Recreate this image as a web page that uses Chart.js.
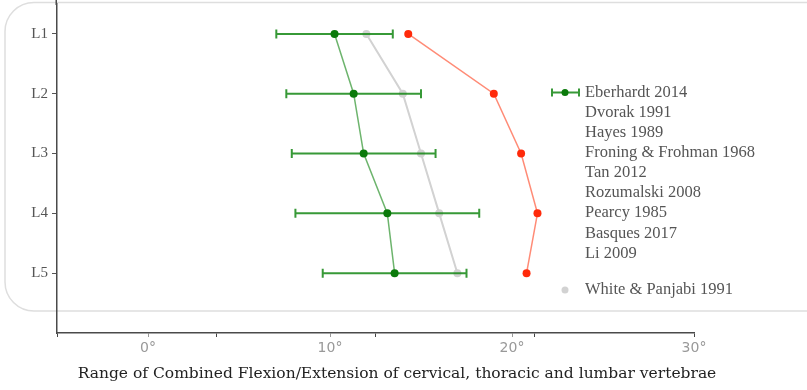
<!DOCTYPE html>
<html>
<head>
<meta charset="utf-8">
<script src="https://cdn.jsdelivr.net/npm/chart.js@4.4.1/dist/chart.umd.min.js"></script>
<style>
  html, body { margin: 0; padding: 0; background: #fff; }
  canvas { display: block; }
</style>
</head>
<body>
<canvas id="chart" width="807" height="390"></canvas>
<script>
// Vertebral levels and their positions on the vertical scale
const levels = ['L1', 'L2', 'L3', 'L4', 'L5'];
const levelPos = [1, 2, 3, 4, 5];

// Range of motion (degrees) per level
const eberhardtMean = [10.25, 11.3, 11.85, 13.15, 13.55];
const eberhardtSD = [3.2, 3.7, 3.95, 5.05, 3.95];
const whitePanjabi = [12, 14, 15, 16, 17];
const otherStudy = [14.3, 19.0, 20.5, 21.4, 20.8];

// Horizontal axis ticks: labelled decades and quarter divisions of the range
const xLabelTicks = [0, 10, 20, 30];
const xQuarterTicks = [-5, 3.75, 12.5, 21.25, 30];

// Legend entries
const legendNames = ['Eberhardt 2014', 'Dvorak 1991', 'Hayes 1989', 'Froning & Frohman 1968',
  'Tan 2012', 'Rozumalski 2008', 'Pearcy 1985', 'Basques 2017', 'Li 2009', 'White & Panjabi 1991'];

const xTitle = 'Range of Combined Flexion/Extension of cervical, thoracic and lumbar vertebrae';

const GREEN = '#0b7a0b';
const GREEN_BAR = 'rgba(20,135,20,0.85)';
const GREEN_LINE = 'rgba(30,140,30,0.65)';
const GRAY = '#d2d2d2';
const RED_PT = '#ff2a0a';
const RED_LINE = 'rgba(255,90,60,0.7)';

const toPoints = vals => vals.map((v, i) => ({ x: v, y: levelPos[i] }));

// Rounded panel behind the plot, plus the vertical axis line carried to the top edge
const panelPlugin = {
  id: 'panel',
  beforeDraw(chart) {
    const ctx = chart.ctx;
    ctx.save();
    ctx.strokeStyle = '#dedede';
    ctx.lineWidth = 1.5;
    ctx.beginPath();
    ctx.roundRect(5, 2.5, 830, 308.5, 29);
    ctx.stroke();
    const xAxis = chart.scales.y.right;
    ctx.strokeStyle = '#4a4a4a';
    ctx.beginPath();
    ctx.moveTo(xAxis - 0.75, 0);
    ctx.lineTo(xAxis - 0.75, chart.chartArea.top + 1);
    ctx.stroke();
    ctx.restore();
  }
};

// Horizontal error bars for the first series
const errorBarPlugin = {
  id: 'errorBars',
  afterDatasetsDraw(chart) {
    const ctx = chart.ctx;
    const xs = chart.scales.x, ys = chart.scales.y;
    ctx.save();
    ctx.strokeStyle = GREEN_BAR;
    ctx.lineWidth = 2;
    eberhardtMean.forEach((m, i) => {
      const y = ys.getPixelForValue(levelPos[i]);
      const x0 = xs.getPixelForValue(m - eberhardtSD[i]);
      const x1 = xs.getPixelForValue(m + eberhardtSD[i]);
      ctx.beginPath();
      ctx.moveTo(x0, y); ctx.lineTo(x1, y);
      ctx.moveTo(x0, y - 4.5); ctx.lineTo(x0, y + 4.5);
      ctx.moveTo(x1, y - 4.5); ctx.lineTo(x1, y + 4.5);
      ctx.stroke();
      ctx.beginPath();
      ctx.fillStyle = GREEN;
      ctx.arc(xs.getPixelForValue(m), y, 4, 0, Math.PI * 2);
      ctx.fill();
    });
    ctx.restore();
  }
};

// Axis title and legend text
const annotationPlugin = {
  id: 'annotations',
  afterDraw(chart) {
    const ctx = chart.ctx;
    ctx.save();
    ctx.fillStyle = '#222';
    ctx.font = '15.5px "DejaVu Serif"';
    ctx.textAlign = 'center';
    ctx.textBaseline = 'middle';
    ctx.fillText(xTitle, 397, 374);

    ctx.font = '16.5px "Liberation Serif"';
    ctx.textAlign = 'left';
    ctx.fillStyle = '#555';
    const textX = 585, markX = 565;
    legendNames.forEach((name, i) => {
      const y = i < 9 ? 92.5 + i * 20.1 : 290;
      ctx.fillText(name, textX, y);
      if (i === 0) {
        ctx.strokeStyle = GREEN_BAR;
        ctx.lineWidth = 2;
        ctx.beginPath();
        ctx.moveTo(552, y); ctx.lineTo(579, y);
        ctx.moveTo(552, y - 4); ctx.lineTo(552, y + 4);
        ctx.moveTo(579, y - 4); ctx.lineTo(579, y + 4);
        ctx.stroke();
        ctx.fillStyle = GREEN;
        ctx.beginPath(); ctx.arc(markX, y, 3.5, 0, Math.PI * 2); ctx.fill();
        ctx.fillStyle = '#555';
      }
      if (i === 9) {
        ctx.fillStyle = GRAY;
        ctx.beginPath(); ctx.arc(markX, y, 3.5, 0, Math.PI * 2); ctx.fill();
        ctx.fillStyle = '#555';
      }
    });
    ctx.restore();
  }
};

new Chart(document.getElementById('chart'), {
  type: 'scatter',
  data: {
    datasets: [
      {
        label: legendNames[0],
        data: toPoints(eberhardtMean),
        showLine: true,
        borderColor: GREEN_LINE,
        borderWidth: 1.5,
        pointRadius: 0,
        pointHoverRadius: 0
      },
      {
        label: legendNames[9],
        data: toPoints(whitePanjabi),
        showLine: true,
        borderColor: GRAY,
        borderWidth: 2,
        pointRadius: 4,
        pointBackgroundColor: GRAY,
        pointBorderWidth: 0
      },
      {
        label: 'Other study',
        data: toPoints(otherStudy),
        showLine: true,
        borderColor: RED_LINE,
        borderWidth: 1.5,
        pointRadius: 4,
        pointBackgroundColor: RED_PT,
        pointBorderWidth: 0
      }
    ]
  },
  options: {
    responsive: false,
    animation: false,
    devicePixelRatio: 1,
    layout: { padding: { left: 0, right: 113, top: 0, bottom: 0 } },
    plugins: { legend: { display: false }, tooltip: { enabled: false } },
    scales: {
      x: {
        type: 'linear',
        min: -5,
        max: 30,
        afterBuildTicks(scale) {
          const vals = Array.from(new Set([...xLabelTicks, ...xQuarterTicks])).sort((a, b) => a - b);
          scale.ticks = vals.map(v => ({ value: v }));
        },
        afterFit(scale) {
          scale.height = 57;
          scale.paddingLeft = 0;
          scale.paddingRight = 0;
        },
        border: { display: true, color: '#4a4a4a', width: 1.5 },
        grid: {
          drawOnChartArea: false,
          drawTicks: true,
          tickLength: 4,
          tickColor: c => (c.tick && xQuarterTicks.includes(c.tick.value)) ? '#444' : '#999'
        },
        ticks: {
          autoSkip: false,
          maxRotation: 0,
          padding: 3,
          color: '#999',
          font: { family: '"DejaVu Sans"', size: 14 },
          callback: v => xLabelTicks.includes(v) ? v + '°' : ''
        }
      },
      y: {
        type: 'linear',
        reverse: true,
        min: 0.5,
        max: 6,
        afterBuildTicks(scale) {
          scale.ticks = levelPos.map(v => ({ value: v }));
        },
        afterFit(scale) {
          scale.width = 57;
          scale.paddingTop = 0;
          scale.paddingBottom = 0;
        },
        border: { display: true, color: '#4a4a4a', width: 1.5 },
        grid: { drawOnChartArea: false, drawTicks: true, tickLength: 5, tickColor: '#555' },
        ticks: {
          padding: 4,
          color: '#555',
          font: { family: '"Liberation Serif"', size: 15 },
          callback: v => levels[levelPos.indexOf(v)] || ''
        }
      }
    }
  },
  plugins: [panelPlugin, errorBarPlugin, annotationPlugin]
});
</script>
</body>
</html>
